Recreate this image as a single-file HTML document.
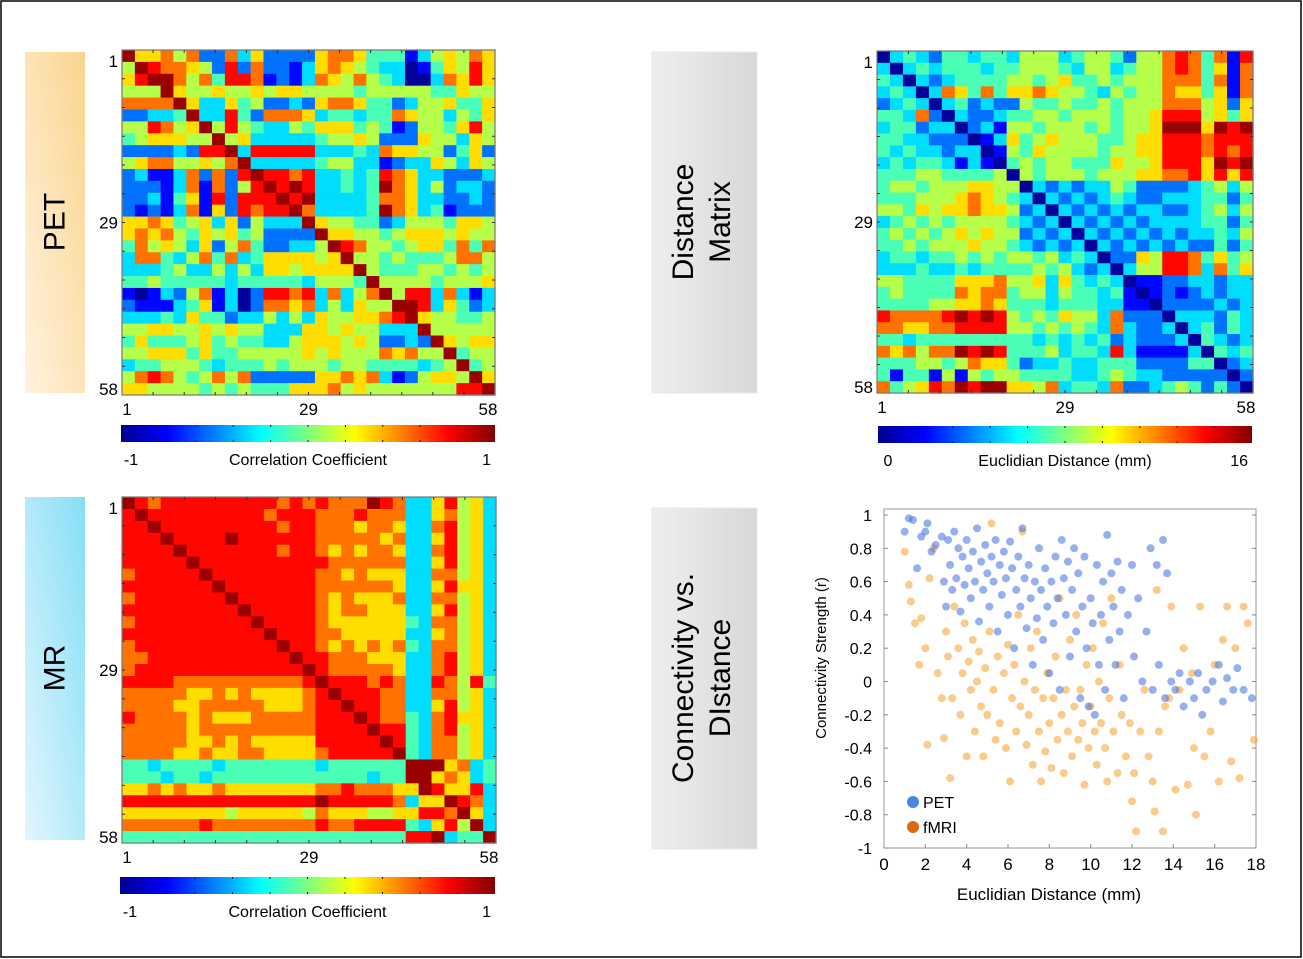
<!DOCTYPE html>
<html><head><meta charset="utf-8"><style>
html,body{margin:0;padding:0;background:#fff;}
svg{display:block;font-family:"Liberation Sans",sans-serif;}
</style></head><body>
<svg id="fig" width="1303" height="959" viewBox="0 0 1303 959" xmlns="http://www.w3.org/2000/svg">
<defs>
<linearGradient id="jet" x1="0" x2="1" y1="0" y2="0">
<stop offset="0" stop-color="#00008f"/><stop offset="0.125" stop-color="#0000ff"/><stop offset="0.375" stop-color="#00ffff"/><stop offset="0.625" stop-color="#ffff00"/><stop offset="0.875" stop-color="#ff0000"/><stop offset="1" stop-color="#800000"/>
</linearGradient>
<linearGradient id="gOr" x1="1" y1="0" x2="0" y2="1"><stop offset="0" stop-color="#fbd48e"/><stop offset="1" stop-color="#fff3e0"/></linearGradient>
<linearGradient id="gBl" x1="1" y1="0" x2="0" y2="1"><stop offset="0" stop-color="#86def7"/><stop offset="1" stop-color="#e2f6fd"/></linearGradient>
<linearGradient id="gGr" x1="0" y1="0" x2="1" y2="0"><stop offset="0" stop-color="#eeeeee"/><stop offset="1" stop-color="#d8d8d8"/></linearGradient>
</defs>
<rect x="1" y="1" width="1300" height="956" fill="#fff" stroke="#000" stroke-width="1.5"/>

<g>
<rect x="25" y="52" width="60" height="341" fill="url(#gOr)"/>
<text x="55" y="222" font-size="30" text-anchor="middle" dominant-baseline="central" transform="rotate(-90 55 222)">PET</text>
</g>
<g>
<rect x="25" y="497" width="60" height="343" fill="url(#gBl)"/>
<text x="55" y="668" font-size="30" text-anchor="middle" dominant-baseline="central" transform="rotate(-90 55 668)">MR</text>
</g>
<g>
<rect x="652" y="52" width="105" height="341" fill="url(#gGr)" stroke="#e8e8e8"/>
<text font-size="30" text-anchor="middle" transform="rotate(-90 705 222)"><tspan x="705" y="210">Distance</tspan><tspan x="705" y="247">Matrix</tspan></text>
</g>
<g>
<rect x="652" y="508" width="105" height="341" fill="url(#gGr)" stroke="#e8e8e8"/>
<text font-size="30" text-anchor="middle" transform="rotate(-90 705 678)"><tspan x="705" y="666">Connectivity vs.</tspan><tspan x="705" y="703">DIstance</tspan></text>
</g>

<g id="petHeat"></g>
<g id="distHeat"></g>
<g id="mrHeat"></g>
<g id="scatter"></g>
</svg>
<script>
// ---- heatmap data (29x29 block estimates, digits 0..9 on jet scale) ----
const petRows = [
"96675 72273 62222 67764 44135 6576","59877 65282 72213 67654 33014 6586","68997 57488 71213 76575 43003 7686",
"55596 55655 65665 55545 55554 4655","77779 63364 52232 67764 42355 6446","22334 93384 27776 34434 47655 3546",
"55875 69585 43354 66645 41255 4685","45666 55956 33333 45565 22265 5365","22223 28893 88888 33343 76655 2462",
"56775 56579 33333 45533 12336 5365","23113 72728 98878 33434 87633 2223","22213 71725 89898 33434 97635 2332",
"22314 61828 88989 33334 77633 2232","21213 71628 78897 33334 97634 1222","66764 56362 53339 65544 23555 4665",
"67675 46564 52222 96655 45666 5655","47565 36257 42233 59875 54566 4747","37743 57473 46666 56955 45444 5775",
"33345 33535 36656 66695 44455 4545","44544 44434 44443 55549 55554 5556","10132 57130 28878 37357 95883 7313",
"21113 46130 27767 35365 59983 6423","33343 64423 35353 65566 78965 5445","55665 56565 53336 65655 33395 5555",
"46444 56454 43356 66565 22329 6566","55666 46445 55556 56555 76755 9455","34455 54344 45455 54554 44434 5945",
"57875 45757 22222 66767 31256 6596","66555 54545 44466 67565 55555 5889"];
const mrRows = [
"98788 88888 88787 87779 87336 8563","89888 88888 87888 77787 77336 7563","88988 88888 88788 77767 76337 8563",
"88898 88898 88888 77777 67336 8563","88889 88888 88788 76767 76337 8563","88888 98888 88888 87777 77336 8563",
"78888 89888 88888 77676 66337 7563","88888 88988 88888 77777 76336 8663","78888 88898 88888 76766 67337 7563",
"88888 88889 88888 76776 66336 8563","78888 88888 98888 76666 66437 7563","88888 88888 89888 77666 66336 7563",
"78888 88888 88988 76767 67437 7563","77888 88888 88898 87776 66337 8563","78888 88888 88889 87777 76337 8563",
"88887 77777 77778 98887 87338 7584","77777 66767 66667 89888 77337 7563","77776 67777 76667 88988 77336 8563",
"87777 67666 77777 88898 77437 8663","77777 67777 77777 88889 88437 8563","77777 66767 66666 88888 98437 7563",
"77776 67667 76666 78888 89437 7563","44344 44344 44444 34444 44999 6734","44434 43444 44444 44443 44996 7634",
"66767 66766 66666 77877 76698 6683","88888 88888 88888 98888 87366 9873","66666 66656 66665 76665 56688 7963",
"77777 78777 77777 87788 88436 8593","44444 44444 44444 44444 44889 3449"];
const distRows = [
"03432 44344 35553 45542 55787 4718","30343 44434 45554 35534 55787 4617","43032 34444 55456 44545 55777 4717",
"34303 76474 66765 54354 55766 4617","23430 34232 25445 44545 55777 5626","44372 03223 44554 55545 56888 5646",
"34423 30231 55455 54545 56999 6989","44332 22013 64565 55445 66888 7888","43433 23301 54655 55455 66888 7878",
"34344 31310 45455 44465 56888 6989","44455 44445 05455 54555 66778 6868","45545 55665 50323 23354 22223 4535",
"44455 56765 43032 32343 22333 4424","55465 66766 52303 23232 33223 4535","34545 45555 43230 32323 23333 4424",
"45454 56565 52323 03232 32323 3435","44545 55655 43232 30323 23232 2424","34434 45454 55453 43022 65887 4645",
"33343 34344 44545 32303 55887 3746","55444 46667 55636 43430 11223 3233","45444 47677 45535 44341 01212 3233",
"44445 56676 44434 44331 10222 2323","87777 89898 54546 55372 22033 3243","77667 78888 55454 54373 22303 4243",
"44344 44444 44343 43423 22230 4323","76757 79898 44453 44383 11113 0434","44455 45766 42334 33444 22224 4023",
"41441 51545 54444 33454 33222 2202","74568 79899 66573 44372 23454 2420"];
const heatTickLabels = ["1","29","58"];
const corrBarLabels = ["-1","1"];
const distBarLabels = ["0","16"];

// ---- scatter data (x = distance mm, y = r) ----
const petX = [1,1.2,1.4,1.6,1.8,2,2.1,2.3,2.5,2.8,2.9,3,3.1,3.2,3.3,3.4,3.5,3.6,3.7,3.8,3.9,4,4.1,4.2,4.3,4.4,4.5,4.6,4.7,4.8,4.9,5,5.1,5.2,5.3,5.4,5.5,5.6,5.7,5.8,5.9,6,6.1,6.2,6.3,6.4,6.5,6.6,6.7,6.8,6.9,7,7.1,7.2,7.3,7.4,7.5,7.6,7.7,7.8,7.9,8,8.1,8.2,8.3,8.4,8.5,8.6,8.7,8.8,8.9,9,9.1,9.2,9.3,9.4,9.5,9.6,9.7,9.8,9.9,10,10.1,10.2,10.3,10.4,10.5,10.6,10.7,10.8,10.9,11,11.1,11.2,11.3,11.4,11.5,11.6,11.8,12,12.1,12.3,12.5,12.7,12.9,13,13.2,13.3,13.5,13.6,13.7,13.9,14.1,14.3,14.5,14.8,15,15.2,15.4,15.6,15.9,16.2,16.4,16.6,16.9,17.1,17.4,17.8];
const petY = [0.9,0.98,0.97,0.68,0.87,0.9,0.95,0.78,0.82,0.87,0.6,0.45,0.85,0.7,0.55,0.9,0.62,0.8,0.42,0.75,0.58,0.85,0.68,0.5,0.78,0.6,0.92,0.36,0.72,0.55,0.82,0.65,0.45,0.75,0.6,0.85,0.3,0.7,0.52,0.78,0.62,0.4,0.84,0.68,0.2,0.55,0.75,0.45,0.92,0.62,0.32,0.7,0.5,0.1,0.6,0.38,0.8,0.55,0.25,0.68,0.45,0.05,0.6,0.35,0.75,0.5,-0.05,0.85,0.62,0.4,0.72,0.15,0.55,0.8,0.3,0.65,-0.1,0.45,0.75,0.2,-0.15,0.5,0.35,-0.2,0.7,0.1,0.4,0.6,-0.05,0.88,0.25,0.65,0.45,0.1,0.72,0.3,0.55,-0.1,0.4,0.7,0.15,0.5,0,0.3,0.8,-0.05,0.7,0.1,0.85,-0.1,0.65,0,-0.05,0.05,-0.15,0,-0.1,0.05,-0.2,-0.05,0,0.1,-0.12,0.02,-0.05,0.08,-0.05,-0.1];
const fmriX = [1,1.2,1.3,1.5,1.7,1.8,2,2.1,2.2,2.4,2.6,2.8,2.9,3,3.1,3.2,3.3,3.4,3.6,3.7,3.8,3.9,4,4.1,4.2,4.3,4.4,4.5,4.6,4.7,4.8,4.9,5,5.1,5.2,5.3,5.4,5.5,5.6,5.8,5.9,6,6.1,6.2,6.3,6.4,6.5,6.6,6.7,6.8,6.9,7,7.1,7.2,7.3,7.4,7.5,7.6,7.7,7.8,7.9,8,8.1,8.2,8.3,8.4,8.5,8.6,8.7,8.8,8.9,9,9.1,9.2,9.3,9.4,9.5,9.6,9.7,9.8,9.9,10,10.1,10.2,10.3,10.4,10.5,10.6,10.7,10.8,10.9,11,11.1,11.3,11.4,11.5,11.7,11.9,12,12.1,12.2,12.4,12.6,12.8,13,13.1,13.2,13.3,13.5,13.6,13.8,13.9,14.1,14.3,14.5,14.7,14.9,15,15.1,15.3,15.5,15.8,16,16.2,16.4,16.6,16.8,17,17.2,17.4,17.6,17.9];
const fmriY = [0.78,0.58,0.48,0.35,0.1,0.38,0.2,-0.38,0.62,0.8,0.05,-0.1,-0.34,0.3,0.15,-0.58,-0.1,0.45,0.2,-0.2,0.05,0.35,-0.45,0.12,-0.05,0.25,-0.3,0,0.18,-0.15,-0.45,0.08,-0.2,0.3,0.95,-0.05,-0.35,0.15,-0.25,0.05,-0.4,0.22,-0.6,-0.1,0.1,-0.3,0.4,-0.15,0.9,0,-0.38,-0.2,0.2,-0.5,-0.05,0.3,-0.3,-0.6,-0.1,-0.42,0.05,-0.25,-0.52,-0.1,0.15,-0.35,0.5,-0.2,-0.55,-0.05,-0.3,0.25,-0.45,-0.15,0.4,-0.35,-0.05,-0.25,-0.62,0.1,-0.4,-0.15,0.2,-0.3,-0.5,0,-0.25,0.35,-0.4,-0.6,-0.1,0.5,-0.3,-0.55,0.1,-0.2,-0.45,-0.25,-0.72,-0.55,-0.9,-0.3,-0.05,-0.45,-0.6,-0.78,0.55,-0.3,-0.9,-0.15,-0.1,0.45,-0.65,-0.05,0.2,-0.62,0.05,-0.4,-0.8,0.45,-0.45,-0.3,0.1,-0.6,0.25,0.45,-0.48,0.2,-0.58,0.45,0.35,-0.35];
const xTicks = [0,2,4,6,8,10,12,14,16,18];
const yTicks = [1,0.8,0.6,0.4,0.2,0,-0.2,-0.4,-0.6,-0.8,-1];

const NS = "http://www.w3.org/2000/svg";
function mk(tag, attrs, parent){const e=document.createElementNS(NS,tag);for(const k in attrs)e.setAttribute(k,attrs[k]);parent.appendChild(e);return e;}
function jet(v){const c=t=>Math.round(255*Math.max(0,Math.min(1,t)));return `rgb(${c(1.5-Math.abs(4*v-3))},${c(1.5-Math.abs(4*v-2))},${c(1.5-Math.abs(4*v-1))})`;}
const digitToV = d => (d + 0.25) / 9.5;

function heatmap(g, rows, x0, y0, w, h, prefix){
  const M = rows.map(r=>r.replace(/ /g,'').split('').map(Number));
  const n = M.length;
  const sx = i => x0 + i*w/n, sy = j => y0 + j*h/n;
  M.forEach((row,j)=>row.forEach((d,i)=>{
    const r = mk('rect',{x:sx(i),y:sy(j),width:w/n+0.6,height:h/n+0.6,fill:jet(digitToV(d))},g);
    
    
  }));
  const fr = mk('rect',{x:x0,y:y0,width:w,height:h,fill:'none',stroke:'#777','stroke-width':1.2},g);
  
  
  for(let k=1;k<12;k++){
    const p = k/12;
    mk('line',{x1:x0+p*w,x2:x0+p*w,y1:y0,y2:y0+3,stroke:'#333','stroke-width':1},g);
    mk('line',{x1:x0+p*w,x2:x0+p*w,y1:y0+h,y2:y0+h-3,stroke:'#333','stroke-width':1},g);
    mk('line',{x1:x0,x2:x0+3,y1:y0+p*h,y2:y0+p*h,stroke:'#333','stroke-width':1},g);
    mk('line',{x1:x0+w,x2:x0+w-3,y1:y0+p*h,y2:y0+p*h,stroke:'#333','stroke-width':1},g);
  }
  const ypos=[y0+11,y0+h*0.5,y0+h-6], xpos=[x0+5,x0+w*0.5,x0+w-7];
  heatTickLabels.forEach((t,k)=>{
    const a = mk('text',{x:x0-4,y:ypos[k]+6,'font-size':17,'text-anchor':'end'},g); a.textContent=t;
    
    
    const b = mk('text',{x:xpos[k],y:y0+h+20,'font-size':17,'text-anchor':'middle'},g); b.textContent=t;
    
    
  });
}
function colorbar(g, x0, y0, w, h, labels, title, prefix){
  const r = mk('rect',{x:x0,y:y0,width:w,height:h,fill:'url(#jet)'},g);
  
  
  for(let k=1;k<10;k++){
    mk('line',{x1:x0+k*w/10,x2:x0+k*w/10,y1:y0,y2:y0+2,stroke:'#222'},g);
    mk('line',{x1:x0+k*w/10,x2:x0+k*w/10,y1:y0+h,y2:y0+h-2,stroke:'#222'},g);
  }
  const l1 = mk('text',{x:x0+10,y:y0+h+23,'font-size':16,'text-anchor':'middle'},g); l1.textContent=labels[0];
  
  
  const l2 = mk('text',{x:x0+w-4,y:y0+h+23,'font-size':16,'text-anchor':'end'},g); l2.textContent=labels[1];
  
  
  const t = mk('text',{x:x0+w/2,y:y0+h+23,'font-size':16,'text-anchor':'middle'},g); t.textContent=title;
  
  
}
const pg=document.getElementById('petHeat'), dg=document.getElementById('distHeat'), mg=document.getElementById('mrHeat');
heatmap(pg, petRows, 122, 50, 373, 345, 'pet');
colorbar(pg, 121, 425, 374, 17, corrBarLabels, 'Correlation Coefficient', 'pet');
heatmap(dg, distRows, 877, 51, 376, 342, 'distance');
colorbar(dg, 878, 426, 374, 17, distBarLabels, 'Euclidian Distance (mm)', 'distance');
heatmap(mg, mrRows, 122, 497, 374, 346, 'mr');
colorbar(mg, 120, 877, 375, 17, corrBarLabels, 'Correlation Coefficient', 'mr');

// ---- scatter ----
const sg=document.getElementById('scatter');
const X0=884, X1=1256, YT=509, YB=848;
const sx = v => X0 + v/18*(X1-X0);
const sy = v => 848 - (v+1)/2*(848-515);
const box = mk('rect',{x:X0,y:YT,width:X1-X0,height:YB-YT,fill:'#fff',stroke:'#9a9a9a'},sg);


xTicks.forEach(t=>{
  mk('line',{x1:sx(t),x2:sx(t),y1:YB,y2:YB-4,stroke:'#888'},sg);
  const e=mk('text',{x:sx(t),y:870,'font-size':17,'text-anchor':'middle'},sg); e.textContent=String(t);
  
  
});
yTicks.forEach(t=>{
  mk('line',{x1:X0,x2:X0+4,y1:sy(t),y2:sy(t),stroke:'#888'},sg);
  mk('line',{x1:X1,x2:X1-4,y1:sy(t),y2:sy(t),stroke:'#888'},sg);
  const e=mk('text',{x:872,y:sy(t)+6,'font-size':16,'text-anchor':'end'},sg); e.textContent=String(t);
  
  
});
fmriX.forEach((x,i)=>{
  const c=mk('circle',{cx:sx(x),cy:sy(fmriY[i]),r:4,fill:'#f5a02a','fill-opacity':0.55},sg);
  
  
});
petX.forEach((x,i)=>{
  const c=mk('circle',{cx:sx(x),cy:sy(petY[i]),r:4,fill:'#3f6fe0','fill-opacity':0.55},sg);
  
  
});
const xt=mk('text',{x:1049,y:900,'font-size':17,'text-anchor':'middle'},sg); xt.textContent='Euclidian Distance (mm)';


const yt=mk('text',{x:826,y:658,'font-size':15,'text-anchor':'middle',transform:'rotate(-90 826 658)'},sg); yt.textContent='Connectivity Strength (r)';


[['PET','#4a86e0',802],['fMRI','#e0680f',827]].forEach(([lab,col,y])=>{
  const d=mk('circle',{cx:913,cy:y,r:6,fill:col},sg);
  
  
  const t=mk('text',{x:923,y:y+6,'font-size':16},sg); t.textContent=lab;
  
  
});
</script>
</body></html>
